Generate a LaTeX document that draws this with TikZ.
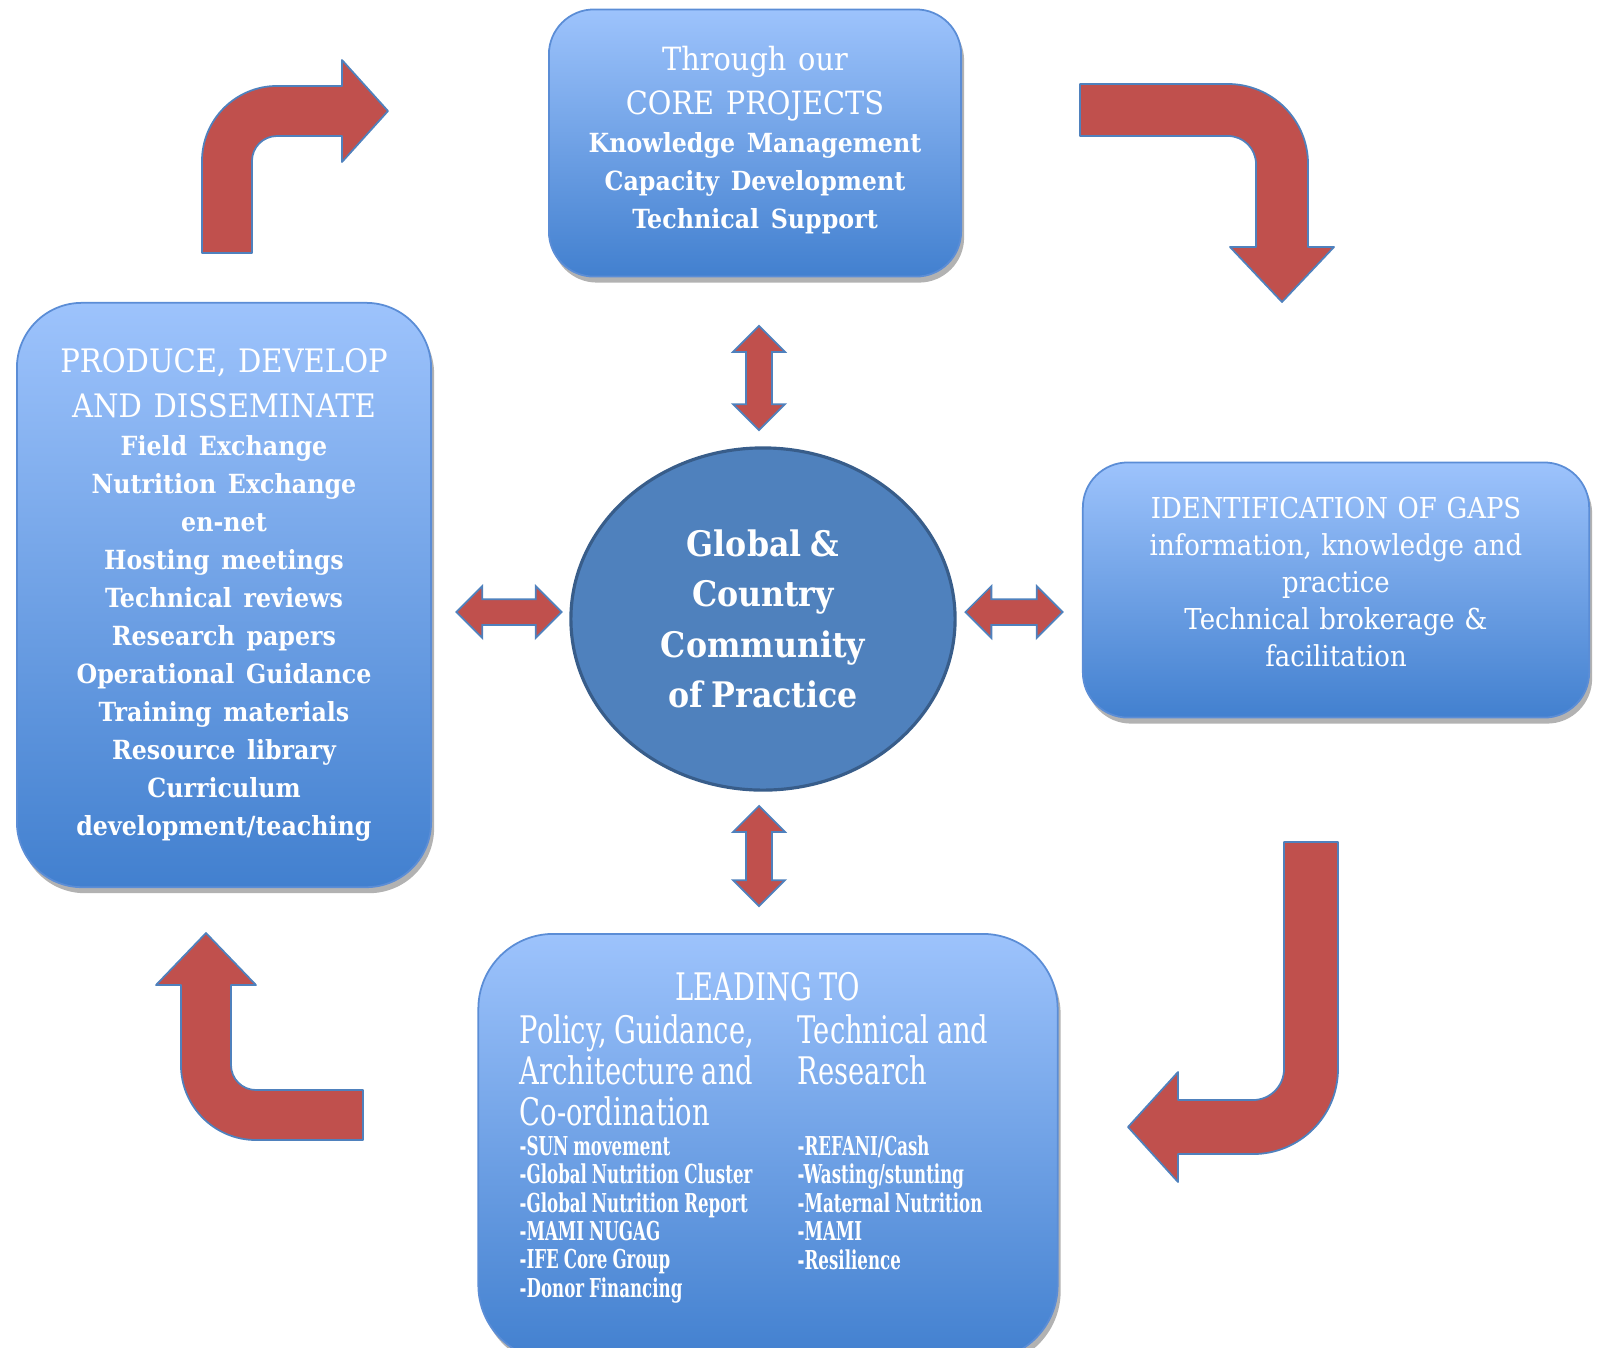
\documentclass[tikz,border=0pt]{standalone}
\usepackage{fontspec}
\setmainfont{DejaVu Serif}[FakeStretch=0.9, WordSpace=0.8]
\newfontfamily\narrowfont{DejaVu Serif}[FakeStretch=0.72, WordSpace=0.85]
\newfontfamily\listfont{DejaVu Serif}[FakeStretch=0.64, WordSpace=0.85]
\usetikzlibrary{shapes.geometric,shapes.arrows,shadows}

\definecolor{boxtop}{HTML}{9DC3FC}
\definecolor{boxbot}{HTML}{4280CF}
\definecolor{boxline}{HTML}{5B8DD6}
\definecolor{hubfill}{HTML}{4F81BD}
\definecolor{hubline}{HTML}{385D8A}
\definecolor{arrowred}{HTML}{C0504D}
\definecolor{arrowline}{HTML}{4F81BD}

\tikzset{
  panel/.style={rectangle, rounded corners=0.45cm, draw=boxline, line width=0.5pt,
    top color=boxtop, bottom color=boxbot, text=white, align=center, inner sep=0pt,
    drop shadow={shadow xshift=0.03cm, shadow yshift=-0.06cm, opacity=0.3, fill=black}},
  hubdisc/.style={ellipse, draw=hubline, line width=0.9pt, fill=hubfill, text=white,
    align=center, inner sep=0pt, font=\fontsize{10}{14.3}\selectfont\bfseries},
  linkarrow/.style={double arrow, draw=arrowline, fill=arrowred, line width=0.5pt,
    inner sep=0.12cm, double arrow head extend=0.13cm},
  bentarrow/.style={draw=arrowline, fill=arrowred, line width=0.5pt, line join=round},
  colhead/.style={text=white, align=left, inner sep=0pt, font=\narrowfont\fontsize{10.8}{11.7}\selectfont},
  colitem/.style={text=white, align=left, inner sep=0pt, font=\listfont\fontsize{7.4}{8.1}\selectfont\bfseries},
}

\begin{document}
\begin{tikzpicture}[x=0.01cm, y=0.01cm]
  \useasboundingbox (0,0) rectangle (1599,-1347);
  \clip (0,0) rectangle (1599,-1347);

  % the four boxes
  \node[panel, minimum width=4.12cm, minimum height=2.67cm, text width=3.9cm] (core) at (755,-143)
    {{\fontsize{9.1}{12.5}\selectfont Through our\\ CORE PROJECTS\par}
     {\fontsize{7.5}{10.8}\selectfont\bfseries Knowledge Management\\ Capacity Development\\ Technical Support\par}
     \vspace{1.5pt}};
  \node[panel, rounded corners=0.65cm, minimum width=4.14cm, minimum height=5.84cm, text width=3.9cm] (produce) at (224,-595)
    {{\fontsize{9.2}{12.8}\selectfont PRODUCE, DEVELOP\\ AND DISSEMINATE\par}
     {\fontsize{7.5}{10.8}\selectfont\bfseries Field Exchange\\ Nutrition Exchange\\ en-net\\ Hosting meetings\\
      Technical reviews\\ Research papers\\ Operational Guidance\\ Training materials\\ Resource library\\
      Curriculum\\ development/teaching\par}};
  \node[panel, minimum width=5.06cm, minimum height=2.55cm, text width=4.8cm,
    font=\fontsize{8.2}{10.5}\selectfont] (gaps) at (1336,-590)
    {IDENTIFICATION OF GAPS\\ information, knowledge and\\ practice\\ Technical brokerage \&\\ facilitation\par
     \vspace{4.5pt}};
  \node[panel, rounded corners=0.75cm, minimum width=5.79cm, minimum height=4.26cm] (leading) at (768,-1147) {};

  % text of the bottom box
  \node[colhead] (leadtitle) at (768,-987) {LEADING TO};
  \node[colhead, anchor=north west] (policy) at (519,-1014) {Policy, Guidance,\\ Architecture and\\ Co-ordination};
  \node[colhead, anchor=north west] (techres) at (797,-1014) {Technical and\\ Research};
  \node[colitem, anchor=north west] (policylist) at (519,-1135)
    {-SUN movement\\ -Global Nutrition Cluster\\ -Global Nutrition Report\\ -MAMI NUGAG\\ -IFE Core Group\\ -Donor Financing};
  \node[colitem, anchor=north west] (techlist) at (797,-1135)
    {-REFANI/Cash\\ -Wasting/stunting\\ -Maternal Nutrition\\ -MAMI\\ -Resilience};

  % centre
  \node[hubdisc, minimum width=3.84cm, minimum height=3.42cm] (hub) at (763,-619)
    {Global \&\\ Country\\ Community\\ of Practice};

  % links to the centre
  \node[linkarrow, minimum height=1.04cm, rotate=90] (uplink) at (759,-378) {};
  \node[linkarrow, minimum height=1.05cm] (leftlink) at (509,-612) {};
  \node[linkarrow, minimum height=0.97cm] (rightlink) at (1014,-612) {};
  \node[linkarrow, minimum height=1.0cm, rotate=90] (downlink) at (759,-856) {};

  % the cycle
  \draw[bentarrow] (202,-253) -- (202,-161) arc[start angle=180, end angle=90, radius=0.75cm]
    -- (342,-86) -- (342,-60) -- (388,-111) -- (342,-162) -- (342,-136) -- (277,-136)
    arc[start angle=90, end angle=180, radius=0.25cm] -- (252,-253) -- cycle;
  \draw[bentarrow] (1080,-84) -- (1228,-84) arc[start angle=90, end angle=0, radius=0.8cm]
    -- (1308,-247) -- (1334,-247) -- (1282,-302) -- (1230,-247) -- (1256,-247) -- (1256,-164)
    arc[start angle=0, end angle=90, radius=0.28cm] -- (1080,-136) -- cycle;
  \draw[bentarrow] (1338,-842) -- (1338,-1069) arc[start angle=0, end angle=-90, radius=0.85cm]
    -- (1178,-1154) -- (1178,-1182) -- (1128,-1127) -- (1178,-1072) -- (1178,-1100) -- (1253,-1100)
    arc[start angle=-90, end angle=0, radius=0.31cm] -- (1284,-842) -- cycle;
  \draw[bentarrow] (363,-1140) -- (256,-1140) arc[start angle=270, end angle=180, radius=0.75cm]
    -- (181,-985) -- (156,-985) -- (206,-933) -- (256,-985) -- (231,-985) -- (231,-1065)
    arc[start angle=180, end angle=270, radius=0.25cm] -- (363,-1090) -- cycle;
\end{tikzpicture}
\end{document}
